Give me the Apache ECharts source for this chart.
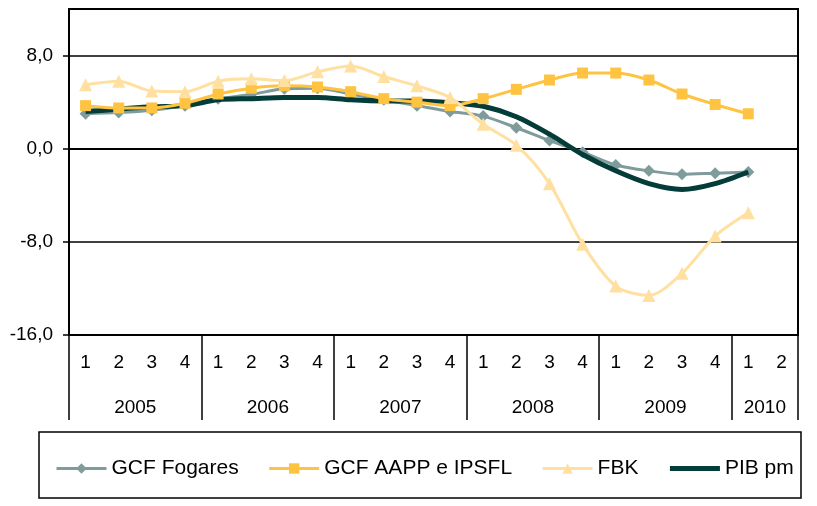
<!DOCTYPE html>
<html>
<head>
<meta charset="utf-8">
<script src="https://cdn.jsdelivr.net/npm/echarts@6/dist/echarts.min.js"></script>
<style>
  html, body { margin: 0; padding: 0; background: #fff; }
  #chart { width: 817px; height: 506px; }
</style>
</head>
<body>
<div id="chart"></div>
<script>
var years = ["2005", "2006", "2007", "2008", "2009", "2010"];
var quartersPerYear = [4, 4, 4, 4, 4, 2];
var quarters = ["1", "2", "3", "4", "1", "2", "3", "4", "1", "2", "3", "4",
  "1", "2", "3", "4", "1", "2", "3", "4", "1", "2"];
var yTicks = [-16, -8, 0, 8];

var gcfFogares = [3.0, 3.1, 3.3, 3.7, 4.3, 4.65, 5.15, 5.2, 4.7, 4.2, 3.7, 3.2,
  2.8, 1.8, 0.7, -0.3, -1.4, -1.9, -2.2, -2.1, -2.0, null];
var gcfAapp = [3.7, 3.5, 3.5, 3.9, 4.7, 5.2, 5.4, 5.3, 4.9, 4.3, 4.0, 3.7,
  4.3, 5.1, 5.9, 6.5, 6.5, 5.9, 4.7, 3.8, 3.0, null];
var fbk = [5.5, 5.8, 4.95, 4.9, 5.8, 6.0, 5.85, 6.6, 7.1, 6.2, 5.4, 4.4,
  2.1, 0.3, -3.0, -8.2, -11.8, -12.6, -10.7, -7.5, -5.5, null];
var pibPm = [3.2, 3.4, 3.6, 3.7, 4.2, 4.3, 4.4, 4.4, 4.2, 4.1, 4.1, 3.95,
  3.65, 2.75, 1.25, -0.5, -1.9, -3.0, -3.5, -3.0, -2.0, null];

// year row: half-quarter positions, label in the middle of each year, ticks on boundaries
var yearAxisData = [];
var yearBounds = [];
var nHalf = quarters.length * 2;
for (var i = 0; i <= nHalf; i++) yearAxisData.push("");
var qpos = 0;
for (var k = 0; k < years.length; k++) {
  yearBounds.push(qpos * 2);
  yearAxisData[qpos * 2 + quartersPerYear[k]] = years[k];
  qpos += quartersPerYear[k];
}
yearBounds.push(qpos * 2);

var font = "'Liberation Sans', Arial, sans-serif";
var axisFont = 19;
var myChart = echarts.init(document.getElementById("chart"));

var option = {
  animation: false,
  textStyle: { fontFamily: font },
  grid: {
    left: 69, right: 19, top: 9, bottom: 171,
    show: true, borderColor: "#000", borderWidth: 2
  },
  graphic: [{
    type: "rect",
    shape: { x: 39, y: 432, width: 762, height: 66 },
    style: { fill: "none", stroke: "#000", lineWidth: 1.5 }
  }],
  legend: {
    left: 55, top: 458, padding: 0,
    itemWidth: 50, itemHeight: 13, itemGap: 29,
    textStyle: { fontSize: 21, color: "#000", fontFamily: font },
    data: [
      { name: "GCF Fogares", lineStyle: { width: 3 } },
      { name: "GCF AAPP e IPSFL", lineStyle: { width: 3 } },
      { name: "FBK", lineStyle: { width: 3 } },
      { name: "PIB pm", lineStyle: { width: 5 }, itemStyle: { opacity: 0 } }
    ]
  },
  xAxis: [
    {
      // zero line with small ticks
      type: "category",
      data: quarters,
      position: "bottom",
      axisLine: { onZero: true, lineStyle: { color: "#000", width: 2 } },
      axisTick: { interval: 0, length: 6, lineStyle: { color: "#000", width: 1.5 } },
      axisLabel: { show: false }
    },
    {
      type: "category",
      data: quarters,
      position: "bottom",
      axisLine: { onZero: false, lineStyle: { color: "#000", width: 2 } },
      axisTick: { interval: 0, length: 43, lineStyle: { color: "#000", width: 1.5 } },
      axisLabel: { interval: 0, margin: 18, fontSize: axisFont, color: "#000", fontFamily: font }
    },
    {
      type: "category",
      data: yearAxisData,
      boundaryGap: false,
      position: "bottom",
      axisLine: { show: false, onZero: false },
      axisTick: {
        length: 85,
        interval: function (index) { return yearBounds.indexOf(index) >= 0; },
        lineStyle: { color: "#000", width: 1.5 }
      },
      axisLabel: {
        margin: 63, fontSize: axisFont, color: "#000", fontFamily: font,
        interval: function (index, value) { return value !== ""; }
      }
    }
  ],
  yAxis: {
    type: "value",
    min: -16,
    max: 12,
    interval: 8,
    axisLine: { show: true, lineStyle: { color: "#000", width: 2 } },
    axisTick: { show: true, length: 6, customValues: yTicks, lineStyle: { color: "#000", width: 1.5 } },
    axisLabel: {
      customValues: yTicks,
      margin: 16, fontSize: axisFont, color: "#000", fontFamily: font,
      formatter: function (v) { return v.toFixed(1).replace(".", ","); }
    },
    splitLine: { show: true, lineStyle: { color: "#000", width: 1.5 } }
  },
  series: [
    {
      name: "GCF Fogares",
      type: "line",
      data: gcfFogares,
      smooth: 0.3,
      z: 2,
      symbol: "diamond",
      symbolSize: 12,
      lineStyle: { color: "#7f9b9b", width: 3 },
      itemStyle: { color: "#7f9b9b" }
    },
    {
      name: "PIB pm",
      type: "line",
      data: pibPm,
      smooth: 0.3,
      z: 3,
      symbol: "none",
      lineStyle: { color: "#033c38", width: 5 },
      itemStyle: { color: "#033c38" }
    },
    {
      name: "GCF AAPP e IPSFL",
      type: "line",
      data: gcfAapp,
      smooth: 0.3,
      z: 4,
      symbol: "rect",
      symbolSize: 11,
      lineStyle: { color: "#ffc342", width: 3 },
      itemStyle: { color: "#ffc342" }
    },
    {
      name: "FBK",
      type: "line",
      data: fbk,
      smooth: 0.3,
      z: 5,
      symbol: "triangle",
      symbolSize: 13,
      lineStyle: { color: "#ffe0a0", width: 3 },
      itemStyle: { color: "#ffe0a0" }
    }
  ]
};

myChart.setOption(option);
</script>
</body>
</html>
